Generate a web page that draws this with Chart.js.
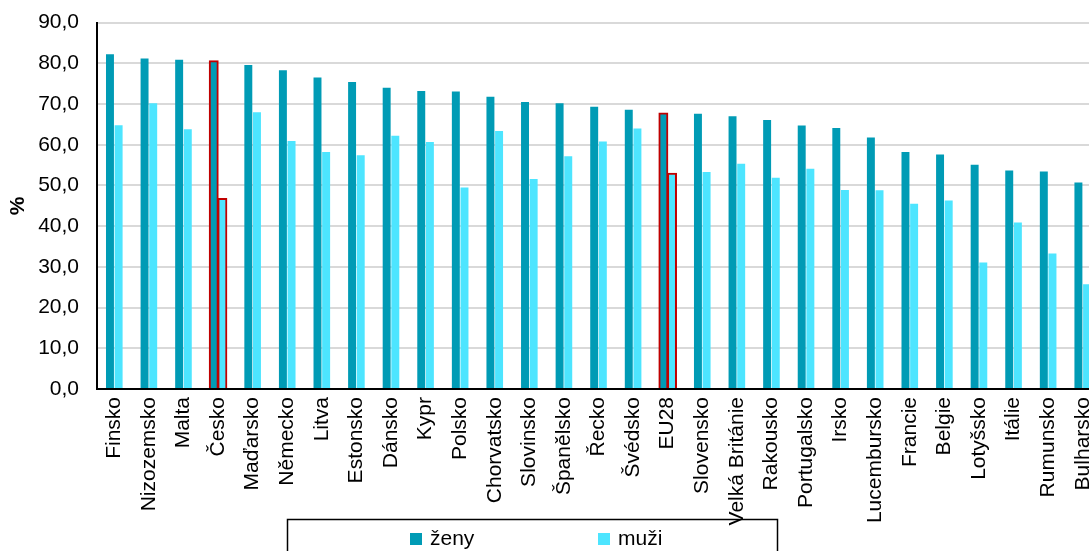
<!DOCTYPE html>
<html>
<head>
<meta charset="utf-8">
<script src="https://cdn.jsdelivr.net/npm/chart.js@4/dist/chart.umd.min.js"></script>
<style>
  html, body { margin: 0; padding: 0; background: #fff; overflow: hidden; }
  #wrap { position: absolute; left: 0; top: -8px; width: 1116px; height: 588px; }
</style>
</head>
<body>
<div id="wrap"><canvas id="chart" width="1116" height="588"></canvas></div>
<script>
const countries = ["Finsko", "Nizozemsko", "Malta", "Česko", "Maďarsko", "Německo", "Litva", "Estonsko",
    "Dánsko", "Kypr", "Polsko", "Chorvatsko", "Slovinsko", "Španělsko", "Řecko", "Švédsko", "EU28",
    "Slovensko", "Velká Británie", "Rakousko", "Portugalsko", "Irsko", "Lucembursko", "Francie",
    "Belgie", "Lotyšsko", "Itálie", "Rumunsko", "Bulharsko"];
const zeny = [82.2, 81.2, 80.9, 80.5, 79.6, 78.3, 76.5, 75.4, 74.0, 73.2, 73.1, 71.8, 70.5, 70.2,
    69.3, 68.6, 67.7, 67.6, 67.0, 66.1, 64.7, 64.1, 61.8, 58.2, 57.6, 55.1, 53.7, 53.4, 50.7];
const muzi = [64.8, 70.2, 63.8, 46.7, 68.0, 60.9, 58.2, 57.4, 62.2, 60.7, 49.5, 63.4, 51.6, 57.2,
    60.8, 64.0, 52.9, 53.3, 55.3, 51.9, 54.1, 48.9, 48.8, 45.5, 46.3, 31.1, 40.9, 33.3, 25.7];
const highlighted = ["Česko", "EU28"];
const yTicks = [0, 10, 20, 30, 40, 50, 60, 70, 80, 90];

const FONT = "'Liberation Sans', Arial, sans-serif";
const isHi = ctx => highlighted.includes(countries[ctx.dataIndex]);

// legend drawn as a boxed strip under the axis labels
const legendBox = {
    id: 'legendBox',
    afterDraw(chart) {
        const c = chart.ctx;
        const top = chart.chartArea.bottom + 130;
        c.save();
        c.strokeStyle = '#000';
        c.lineWidth = 1.5;
        c.strokeRect(287.5, top + 0.5, 490, 60);
        c.font = '21px ' + FONT;
        c.textBaseline = 'middle';
        chart.data.datasets.forEach((ds, i) => {
            const x = 410 + i * 188;
            c.fillStyle = ds.backgroundColor;
            c.fillRect(x, top + 14, 12, 12);
            c.fillStyle = '#000';
            c.fillText(ds.label, x + 20, top + 20);
        });
        c.restore();
    }
};

new Chart(document.getElementById("chart"), {
    type: 'bar',
    data: {
        labels: countries,
        datasets: [{
            label: 'ženy',
            data: zeny,
            backgroundColor: '#009BB5',
            borderColor: ctx => isHi(ctx) ? '#C00000' : '#009BB5',
            borderWidth: ctx => isHi(ctx) ? 2 : 0,
            inflateAmount: ctx => isHi(ctx) ? 1 : 'auto'
        }, {
            label: 'muži',
            data: muzi,
            backgroundColor: '#4DE5FF',
            borderColor: ctx => isHi(ctx) ? '#C00000' : '#4DE5FF',
            borderWidth: ctx => isHi(ctx) ? 2 : 0,
            inflateAmount: ctx => isHi(ctx) ? 1 : 'auto'
        }]
    },
    options: {
        responsive: false,
        animation: false,
        devicePixelRatio: 1,
        layout: { padding: { top: 9, right: 4, bottom: 0, left: 0 } },
        categoryPercentage: 0.5,
        barPercentage: 0.92,
        plugins: {
            legend: { display: false },
            tooltip: { enabled: false }
        },
        scales: {
            x: {
                grid: { display: false, drawTicks: false },
                border: { color: '#000', width: 2 },
                ticks: {
                    color: '#000',
                    font: { family: FONT, size: 21 },
                    minRotation: 90,
                    maxRotation: 90,
                    autoSkip: false,
                    padding: 8
                },
                afterFit: s => { s.height = 191; }
            },
            y: {
                min: 0,
                max: 90,
                afterBuildTicks: s => { s.ticks = yTicks.map(v => ({ value: v })); },
                grid: { color: '#D9D9D9', lineWidth: 2, drawTicks: false },
                border: { color: '#000', width: 2 },
                ticks: {
                    color: '#000',
                    font: { family: FONT, size: 21 },
                    padding: 18,
                    callback: v => v.toFixed(1).replace('.', ',')
                },
                title: {
                    display: true,
                    text: '%',
                    color: '#000',
                    font: { family: FONT, size: 21, weight: 'bold' },
                    padding: { top: 6, bottom: 0 }
                },
                afterFit: s => { s.width = 97; }
            }
        }
    },
    plugins: [legendBox]
});
</script>
</body>
</html>
